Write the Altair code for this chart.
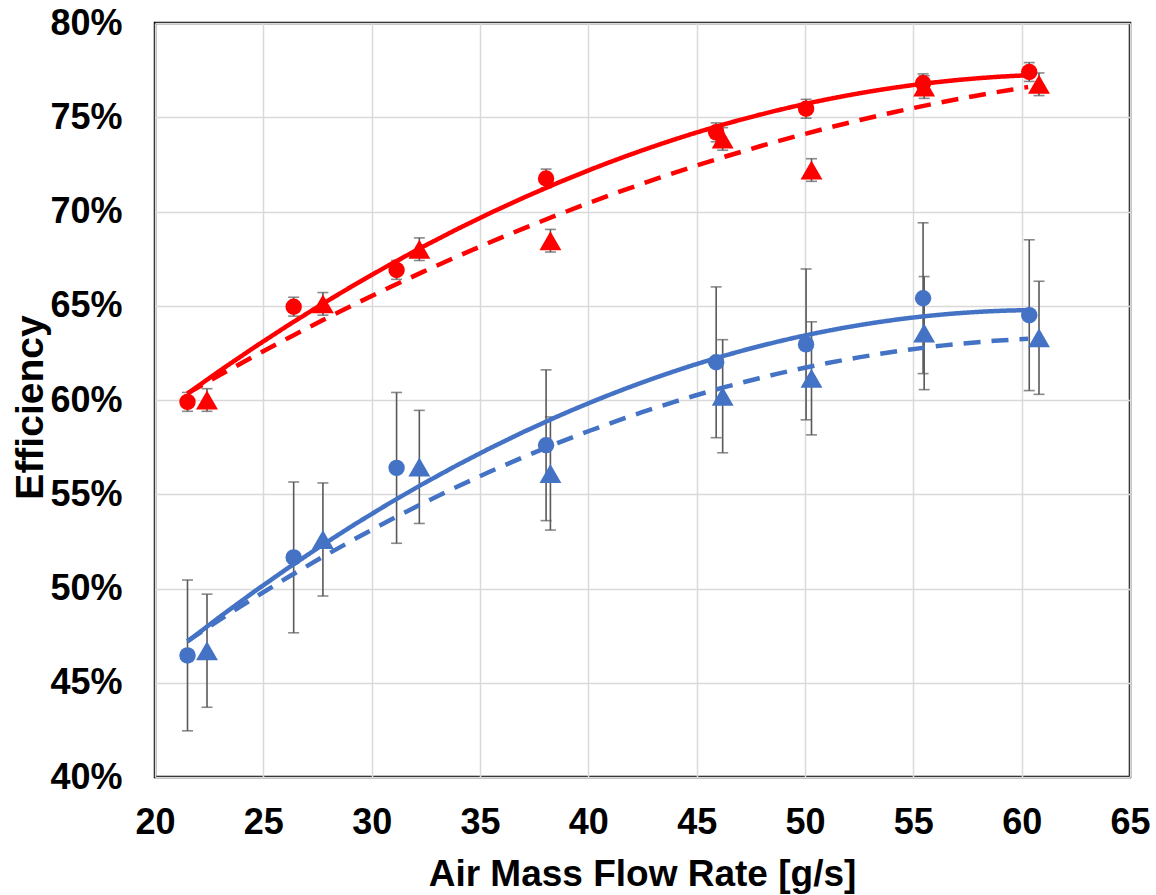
import altair as alt
import pandas as pd

# ---- data ----
circle_x = [21.5, 26.4, 31.15, 38.05, 45.9, 50.05, 55.45, 60.35]
tri_x = [22.4, 27.75, 32.2, 38.25, 46.2, 50.3, 55.5, 60.8]

red_circle_y = [59.9, 64.95, 66.9, 71.75, 74.2, 75.45, 76.8, 77.4]
red_tri_y = [60.0, 65.1, 68.0, 68.45, 73.85, 72.2, 76.6, 76.75]
blue_circle_y = [46.45, 51.65, 56.4, 57.6, 62.0, 62.95, 65.4, 64.5]
blue_tri_y = [46.7, 52.6, 56.45, 56.1, 60.2, 61.15, 63.55, 63.3]

red_circle_err = [0.5] * 8
red_tri_err = [0.6] * 8
blue_circle_err = [4.0] * 8
blue_tri_err = [3.0] * 8

series_names = ["red_circle", "red_tri", "blue_circle", "blue_tri"]
series_colors = ["#FF0000", "#FF0000", "#4472C4", "#4472C4"]
x_ticks = [20, 25, 30, 35, 40, 45, 50, 55, 60, 65]
y_ticks = [0.40, 0.45, 0.50, 0.55, 0.60, 0.65, 0.70, 0.75, 0.80]

rows = []
for name, xs, ys, errs, shape, dash in [
    ("red_circle", circle_x, red_circle_y, red_circle_err, "circle", "solid"),
    ("red_tri", tri_x, red_tri_y, red_tri_err, "triangle", "dashed"),
    ("blue_circle", circle_x, blue_circle_y, blue_circle_err, "circle", "solid"),
    ("blue_tri", tri_x, blue_tri_y, blue_tri_err, "triangle", "dashed"),
]:
    for xv, yv, ev in zip(xs, ys, errs):
        rows.append({"series": name, "shape": shape, "dash": dash, "x": xv,
                     "y": yv / 100, "lo": (yv - ev) / 100, "hi": (yv + ev) / 100})
df = pd.DataFrame(rows)

FONT = "Liberation Sans"

x_enc = alt.X("x:Q", scale=alt.Scale(domain=[20, 65], nice=False, zero=False),
              axis=alt.Axis(values=x_ticks, title="Air Mass Flow Rate [g/s]",
                            labelPadding=28, labelFlush=False, labelOverlap=False,
                            titleX=487, titleY=108,
                            titleBaseline="alphabetic", titleAlign="center",
                            titleFontSize=37))
y_enc = alt.Y("y:Q", scale=alt.Scale(domain=[0.4, 0.8], nice=False, zero=False),
              axis=alt.Axis(values=y_ticks, format=".0%", title="Efficiency",
                            labelPadding=33, labelFlush=False, labelOverlap=False,
                            titleX=-113, titleY=384,
                            titleAngle=270, titleAlign="center",
                            titleBaseline="alphabetic", titleFontSize=39))
color_enc = alt.Color("series:N", scale=alt.Scale(domain=series_names, range=series_colors),
                      legend=None)

base = alt.Chart(df)

err_rule = base.mark_rule(color="#595959", strokeWidth=1.6).encode(
    x=x_enc, y=alt.Y("lo:Q"), y2="hi:Q")
cap_lo = base.mark_tick(color="#595959", orient="horizontal", size=11, thickness=1.6).encode(
    x=x_enc, y=alt.Y("lo:Q"))
cap_hi = base.mark_tick(color="#595959", orient="horizontal", size=11, thickness=1.6).encode(
    x=x_enc, y=alt.Y("hi:Q"))

points = base.mark_point(filled=True, opacity=1, strokeWidth=0).encode(
    x=x_enc, y=y_enc, color=color_enc,
    shape=alt.Shape("shape:N", scale=alt.Scale(domain=["circle", "triangle"],
                                               range=["circle", "triangle-up"]), legend=None),
    size=alt.Size("shape:N", scale=alt.Scale(domain=["circle", "triangle"], range=[270, 480]),
                  legend=None),
)

trend = base.transform_regression(
    "x", "y", groupby=["series", "dash"], method="poly", order=2, extent=[21.5, 60.3]
).mark_line(strokeWidth=4.5).encode(
    x=x_enc, y=y_enc, color=color_enc,
    strokeDash=alt.StrokeDash("dash:N", scale=alt.Scale(domain=["solid", "dashed"],
                                                        range=[[1, 0], [17, 11]]), legend=None),
)

chart = alt.layer(err_rule, cap_lo, cap_hi, points, trend).properties(
    width=975, height=754,
    autosize=alt.AutoSizeParams(type="none"),
    padding={"left": 155, "top": 23, "right": 26, "bottom": 118},
    background="white",
).configure_view(stroke="black", strokeWidth=2.5).configure_axis(
    grid=True, gridColor="#D9D9D9", gridWidth=1.5, domain=False, ticks=False, tickSize=0,
    labelFont=FONT, labelFontSize=36, labelFontWeight="bold", labelColor="black",
    titleFont=FONT, titleFontWeight="bold", titleColor="black",
)

chart.save("out.html", embed_options={"renderer": "svg", "actions": False})
